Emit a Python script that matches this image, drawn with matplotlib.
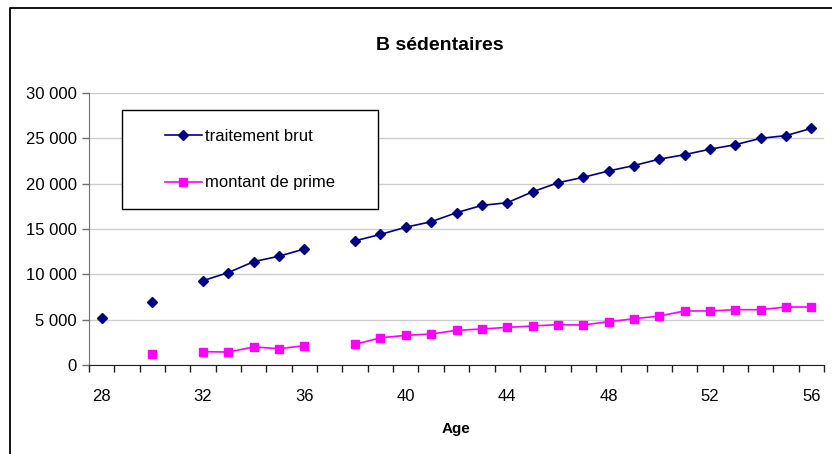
import matplotlib
matplotlib.use("Agg")
import matplotlib.pyplot as plt
import numpy as np
from matplotlib.lines import Line2D
from matplotlib.patches import Rectangle
from matplotlib.ticker import FuncFormatter

plt.rcParams['font.family'] = ['Liberation Sans', 'DejaVu Sans']

nan = np.nan

# ages 28..56 (one category per year, gaps where no data)
ages = list(range(28, 57))

traitement_brut = [5200, nan, 7000, nan, 9300, 10200, 11400, 12000, 12800, nan,
                   13700, 14400, 15200, 15800, 16800, 17600, 17900, 19100, 20100,
                   20700, 21400, 22000, 22700, 23200, 23800, 24300, 25000, 25300, 26100]

montant_prime = [nan, nan, 1200, nan, 1470, 1430, 1990, 1800, 2130, nan,
                 2280, 3000, 3270, 3420, 3820, 3970, 4150, 4300, 4450,
                 4410, 4780, 5100, 5400, 5960, 5960, 6100, 6100, 6400, 6400]

label_ages = [28, 32, 36, 40, 44, 48, 52, 56]
y_ticks = [0, 5000, 10000, 15000, 20000, 25000, 30000]

W, H = 832, 454
fig = plt.figure(figsize=(W / 100, H / 100), dpi=100)
ax = fig.add_axes([89 / W, 1 - 365 / H, (824 - 89) / W, (365 - 93) / H])

ax.plot(ages, traitement_brut, color='#000080', lw=1.2, marker='D', markersize=4.6,
        label='traitement brut')
ax.plot(ages, montant_prime, color='#FF00FF', lw=1.2, marker='s', markersize=5.5,
        label='montant de prime')

# axes
ax.set_xlim(27.5, 56.5)
ax.set_ylim(0, 30000)
ax.set_yticks(y_ticks)
ax.yaxis.set_major_formatter(FuncFormatter(lambda v, p: f"{int(v):,}".replace(",", " ")))
ax.set_xticks(label_ages)
ax.set_xticks(np.arange(27.5, 57, 1), minor=True)
ax.tick_params(axis='x', which='major', length=0, pad=17, labelsize=12)
ax.tick_params(axis='x', which='minor', length=5, width=1, color='#202020', direction='out')
ax.tick_params(axis='y', length=5, width=1, color='#707070', pad=4, labelsize=12)

for s in ['top', 'right']:
    ax.spines[s].set_visible(False)
ax.spines['left'].set_color('#707070')
ax.spines['bottom'].set_color('#202020')
ax.grid(axis='y', color='#cccccc', lw=1)
ax.set_axisbelow(True)

ax.set_xlabel('Age', fontsize=11, fontweight='bold', labelpad=13)

# legend box
ax.add_patch(Rectangle((0.045, 0.574), 0.348, 0.363, transform=ax.transAxes,
                       facecolor='white', edgecolor='black', lw=1, zorder=5))
leg = ax.legend(loc='center', bbox_to_anchor=(0.219, 0.7555), frameon=False,
                fontsize=12, handlelength=2.2, handletextpad=0.2, labelspacing=1.9,
                borderaxespad=0)
leg.set_zorder(6)

fig.text(440 / W, 1 - 45 / H, 'B sédentaires', ha='center', va='center',
         fontsize=14, fontweight='bold')

# chart area border (left and top visible)
fig.add_artist(Line2D([10 / W, 10 / W, 1], [0, 1 - 8 / H, 1 - 8 / H],
                      transform=fig.transFigure, color='black', lw=1.3))

fig.savefig('out.png', dpi=100)
